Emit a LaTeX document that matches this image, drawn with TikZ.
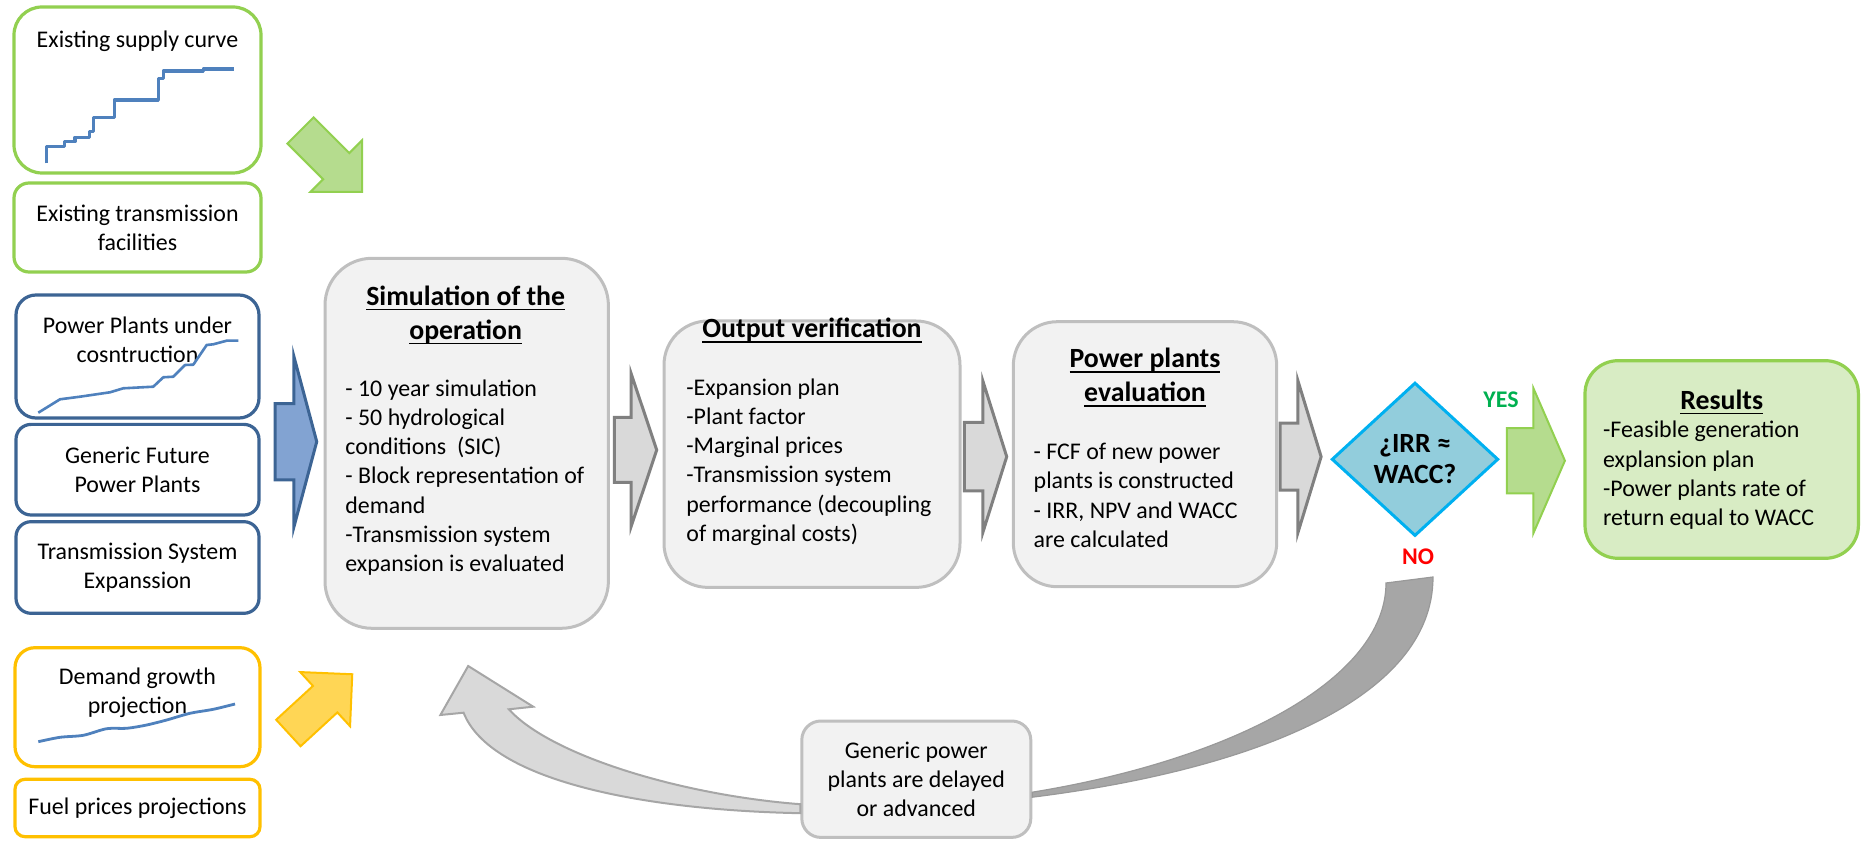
\documentclass[tikz,border=0pt]{standalone}
\usepackage{fontspec}
\setmainfont{Carlito}
\usetikzlibrary{shapes.geometric,shapes.arrows,calc}

\newsavebox{\ulbox}
\newcommand{\ulined}[1]{\sbox{\ulbox}{#1}\rlap{\rule[-2.4pt]{\wd\ulbox}{0.7pt}}\usebox{\ulbox}}

\definecolor{leafgreen}{HTML}{92D050}
\definecolor{paleleaf}{HTML}{B5DC8E}
\definecolor{navyline}{HTML}{3C6494}
\definecolor{steelfill}{HTML}{82A3D2}
\definecolor{amber}{HTML}{FFC000}
\definecolor{paleamber}{HTML}{FFD655}
\definecolor{curveblue}{HTML}{4F81BD}
\definecolor{boxgray}{HTML}{F2F2F2}
\definecolor{edgegray}{HTML}{BFBFBF}
\definecolor{arrowgray}{HTML}{D9D9D9}
\definecolor{arrowedge}{HTML}{808080}
\definecolor{bandgray}{HTML}{A6A6A6}
\definecolor{bandedge}{HTML}{999999}
\definecolor{skyfill}{HTML}{92CDDC}
\definecolor{skyline}{HTML}{00B0F0}
\definecolor{resultfill}{HTML}{D8ECC4}
\definecolor{yesgreen}{HTML}{00B050}

\newcommand{\bodyfont}{\fontsize{11.95}{14.6}\selectfont}
\newcommand{\headfont}{\fontsize{13.9}{17}\selectfont\bfseries}

\tikzset{
  inbox/.style={draw=#1, line width=1.6pt, fill=white, inner sep=0pt, align=center, font=\bodyfont},
  graybox/.style={draw=edgegray, fill=boxgray, line width=1.5pt, inner sep=0pt, align=center, font=\bodyfont},
  bodytext/.style={anchor=north west, inner sep=0pt, align=left, font=\bodyfont},
  headtext/.style={anchor=north, inner sep=0pt, align=center, font=\headfont},
  plaintext/.style={inner sep=0pt, align=center, font=\bodyfont},
  fatarrow/.style={single arrow, anchor=tip, inner xsep=0pt, inner ysep=#1, single arrow head indent=0pt},
  curveline/.style={curveblue, line width=#1, line join=round},
}

\begin{document}
\begin{tikzpicture}[x=0.5pt,y=-0.5pt]
\useasboundingbox (0,0) rectangle (1865,844);

% input boxes on the left
\node[inbox=leafgreen, rounded corners=14pt, minimum width=123.5pt, minimum height=83pt] (supply) at (137.5,90) {};
\node[plaintext] (supplytxt) at (137.5,41.5) {Existing supply curve};
\draw[curveline=1.65pt] (46.7,163.3) -- (46.7,146.7) -- (64.3,146.7) -- (64.3,141.7) -- (75,141.7) -- (75,137.3)
  -- (89.3,137.3) -- (89.3,131.7) -- (93.3,131.7) -- (93.3,117.3) -- (114.3,117.3) -- (114.3,100)
  -- (158.3,100) -- (158.3,78.3) -- (163.3,78.3) -- (163.3,71) -- (203.3,71) -- (203.3,69) -- (234.3,69);

\node[inbox=leafgreen, rounded corners=7.5pt, minimum width=123.5pt, minimum height=44.5pt] (facil) at (137.5,227.5) {Existing transmission\\facilities};

\node[inbox=navyline, rounded corners=10pt, minimum width=121.5pt, minimum height=61.5pt] (ppuc) at (137.5,356.5) {};
\node[plaintext] (ppuctxt) at (137.5,339.5) {Power Plants under\\cosntruction};
\draw[curveline=1.3pt] (38.3,412.7) -- (60,399.3) -- (80,396.7) -- (110,392.3) -- (123.3,388.3) -- (153.3,386.7)
  -- (163.3,377.3) -- (173.3,376.7) -- (185,365) -- (193.3,364.7) -- (206.7,345) -- (213.3,344.3)
  -- (226.7,340.7) -- (238.3,340.7);

\node[inbox=navyline, rounded corners=7.5pt, minimum width=121.5pt, minimum height=45.3pt] (gfpp) at (137.5,469.7) {Generic Future\\Power Plants};
\node[inbox=navyline, rounded corners=7.5pt, minimum width=121.5pt, minimum height=45.8pt] (tse) at (137.5,567.5) {Transmission System\\Expanssion};

\node[inbox=amber, rounded corners=10pt, minimum width=122.5pt, minimum height=59.5pt] (demand) at (137.5,707.2) {};
\node[plaintext] (demandtxt) at (137.5,692.8) {Demand growth\\projection};
\draw[curveline=1.4pt] plot[smooth, tension=0.5] coordinates {(38.3,741.7) (60,737.3) (83.3,735.3) (106.7,728.7)
  (126.7,728.3) (146.7,725) (166.7,720) (190,713.3) (213.3,709.3) (235,704)};

\node[inbox=amber, rounded corners=5pt, minimum width=122.5pt, minimum height=28.7pt] (fuel) at (137.5,808) {Fuel prices projections};

% arrows into the simulation
\node[fatarrow=8.75pt, draw=leafgreen, fill=paleleaf, line width=1pt, rotate=-45, minimum height=43.5pt, minimum width=35.5pt,
  single arrow head extend=9pt, single arrow tip angle=90] (supplyarrow) at (363,193) {};
\node[fatarrow=18.3pt, draw=navyline, fill=steelfill, line width=1.5pt, minimum height=20.8pt, minimum width=84.2pt,
  single arrow head extend=23.75pt, single arrow tip angle=150] (plantsarrow) at (318.3,441.7) {};
\node[fatarrow=8.5pt, draw=amber, fill=paleamber, line width=1pt, rotate=42.6, minimum height=43.4pt, minimum width=35.7pt,
  single arrow head extend=9.4pt, single arrow tip angle=90] (demandarrow) at (353.3,673.3) {};

% main chain
\node[graybox, rounded corners=23.5pt, minimum width=141.7pt, minimum height=185pt] (sim) at (466.7,443.3) {};
\node[headtext] (simhead) at (465.7,281.2) {\strut\ulined{Simulation of the}\\\ulined{operation}};
\node[bodytext] (simtxt) at (345,375.4) {\strut- 10 year simulation\\- 50 hydrological\\conditions\ \ (SIC)\\- Block representation of\\demand\\-Transmission system\\expansion is evaluated};

\node[fatarrow=15.5pt, draw=arrowedge, fill=arrowgray, line width=1.5pt, minimum height=21.2pt, minimum width=75pt,
  single arrow head extend=22pt, single arrow tip angle=143] (simarrow) at (658.3,450) {};

\node[graybox, rounded corners=22pt, minimum width=148pt, minimum height=133.2pt] (outv) at (812,454.2) {};
\node[headtext] (outvhead) at (812,313.8) {\strut\ulined{Output verification}};
\node[bodytext] (outvtxt) at (686,374.4) {\strut-Expansion plan\\-Plant factor\\-Marginal prices\\-Transmission system\\performance (decoupling\\of marginal costs)};

\node[fatarrow=16.4pt, draw=arrowedge, fill=arrowgray, line width=1.5pt, minimum height=21.2pt, minimum width=74.2pt,
  single arrow head extend=20.7pt, single arrow tip angle=145] (outvarrow) at (1008.3,456.7) {};

\node[graybox, rounded corners=22pt, minimum width=131.7pt, minimum height=132.5pt] (ppe) at (1145,454.2) {};
\node[headtext] (ppehead) at (1145,343.8) {\strut\ulined{Power plants}\\\ulined{evaluation}};
\node[bodytext] (ppetxt) at (1033.3,438.8) {\strut- FCF of new power\\plants is constructed\\- IRR, NPV and WACC\\are calculated};

\node[fatarrow=16pt, draw=arrowedge, fill=arrowgray, line width=1.5pt, minimum height=20.5pt, minimum width=75pt,
  single arrow head extend=21.5pt, single arrow tip angle=146] (ppearrow) at (1322.7,456.7) {};

\node[diamond, draw=skyline, fill=skyfill, line width=1.5pt, inner sep=0pt, minimum width=83.3pt, minimum height=76.7pt,
  align=center, font=\fontsize{13.9}{15.5}\selectfont\bfseries] (check) at (1415,459.3) {¿IRR ≈\\WACC?};
\node[font=\bodyfont\bfseries, text=yesgreen, inner sep=0pt] (yes) at (1501,399.8) {YES};
\node[font=\bodyfont\bfseries, text=red, inner sep=0pt] (no) at (1418,556.5) {NO};

\node[fatarrow=15.8pt, draw=leafgreen, fill=paleleaf, line width=1pt, minimum height=29pt, minimum width=71.7pt,
  single arrow head extend=20pt, single arrow tip angle=133] (yesarrow) at (1566,460.7) {};

\node[draw=leafgreen, fill=resultfill, line width=1.6pt, rounded corners=16.5pt, minimum width=136.7pt, minimum height=98.8pt] (results) at (1721.7,459.5) {};
\node[headtext] (resultshead) at (1721.7,385.2) {\strut\ulined{Results}};
\node[bodytext] (resultstxt) at (1602.7,417.1) {\strut-Feasible generation\\explansion plan\\-Power plants rate of\\return equal to WACC};

% loop back when IRR differs from WACC
\node[graybox, rounded corners=9.5pt, minimum width=114.5pt, minimum height=58.2pt] (gen) at (916.3,779.2) {Generic power\\plants are delayed\\or advanced};
\filldraw[fill=bandgray, draw=bandedge, line width=0.6pt] (1386,583) -- (1433,577) .. controls (1433,700) and (1250,770) .. ($(gen.east)+(0,18)$)
  -- ($(gen.east)+(0,13)$) .. controls (1230,760) and (1386,680) .. (1386,583) -- cycle;
\filldraw[fill=arrowgray, draw=bandgray, line width=1pt] ($(gen.west)+(0,34)$) .. controls (640,810) and (490,780) .. (463.6,712.7)
  -- (440.4,715) -- (468.2,666) -- (533.2,706.7) -- (508.9,709.3) .. controls (550,755) and (680,795) .. ($(gen.west)+(0,25)$) -- cycle;

\end{tikzpicture}
\end{document}
